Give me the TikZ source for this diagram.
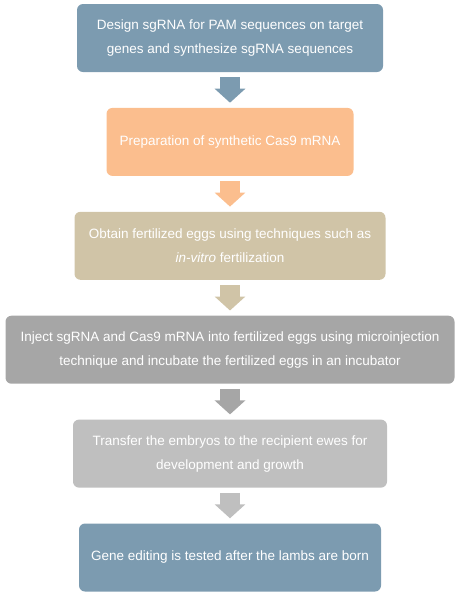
\documentclass[tikz,border=0pt]{standalone}
\usepackage{fontspec}
\setmainfont{Liberation Sans}
\usepackage{tikz}
\usetikzlibrary{positioning}
\usetikzlibrary{arrows.meta}
\definecolor{ge-blue}{HTML}{7C9BB0}
\definecolor{ge-peach}{HTML}{FBBE8E}
\definecolor{ge-tan}{HTML}{D0C4A7}
\definecolor{ge-grey}{HTML}{A6A6A6}
\definecolor{ge-light}{HTML}{BFBFBF}

\begin{document}
\begin{tikzpicture}[
    node distance=35.5pt, % gaps between the steps
    font=\fontsize{13.5}{24}\selectfont,
    >=latex
  ]

  % Step and block-arrow styles
  \tikzset{
    stepbox/.style={rounded corners=6pt, minimum height=68pt, text=white, align=center, inner sep=0pt},
    flow/.style={line width=20pt, -{Triangle[width=30pt,length=14pt]}, shorten <=5pt, shorten >=5pt}
  }

  \useasboundingbox (0,0) rectangle (462pt,-595pt);

  % Vertical chain of steps
  \node (design) [stepbox, fill=ge-blue, minimum width=306pt] at (230pt,-38pt)
    {Design sgRNA for PAM sequences on target\\genes and synthesize sgRNA sequences};
  \node (cas) [stepbox, fill=ge-peach, minimum width=247pt, below=of design]
    {Preparation of synthetic Cas9 mRNA};
  \node (eggs) [stepbox, fill=ge-tan, minimum width=311pt, below=of cas]
    {Obtain fertilized eggs using techniques such as\\\textit{in-vitro} fertilization};
  \node (inject) [stepbox, fill=ge-grey, minimum width=449pt, below=of eggs]
    {Inject sgRNA and Cas9 mRNA into fertilized eggs using microinjection\\technique and incubate the fertilized eggs in an incubator};
  \node (transfer) [stepbox, fill=ge-light, minimum width=314pt, below=of inject]
    {Transfer the embryos to the recipient ewes for\\development and growth};
  \node (test) [stepbox, fill=ge-blue, minimum width=302pt, below=of transfer]
    {Gene editing is tested after the lambs are born};

  % Block arrows between the steps
  \draw[flow, ge-blue] (design) -- (cas);
  \draw[flow, ge-peach] (cas) -- (eggs);
  \draw[flow, ge-tan] (eggs) -- (inject);
  \draw[flow, ge-grey] (inject) -- (transfer);
  \draw[flow, ge-light] (transfer) -- (test);

\end{tikzpicture}
\end{document}
